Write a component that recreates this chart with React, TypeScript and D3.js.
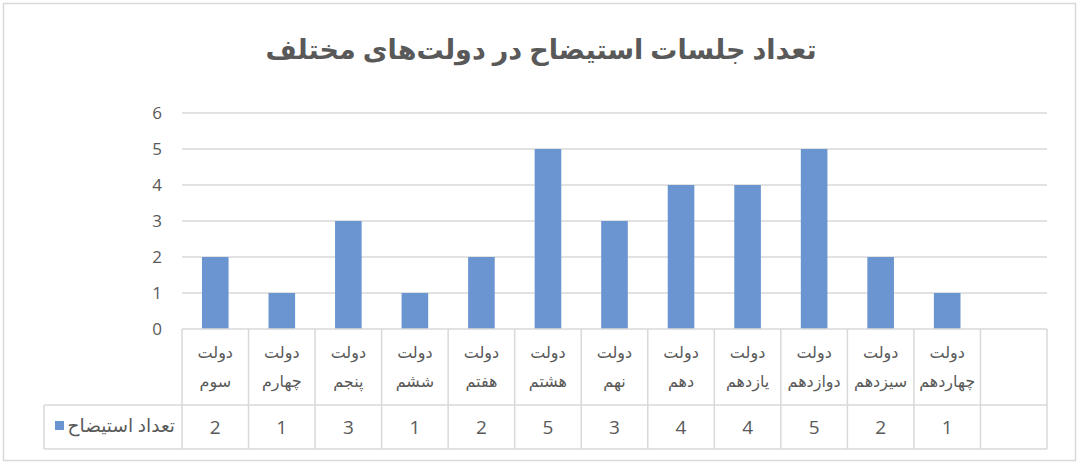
import React from 'react';
import * as d3 from 'd3';

const TITLE = 'تعداد جلسات استیضاح در دولت‌های مختلف';
const SERIES_NAME = 'تعداد استیضاح';
const ordinals = ['سوم', 'چهارم', 'پنجم', 'ششم', 'هفتم', 'هشتم', 'نهم', 'دهم', 'یازدهم', 'دوازدهم', 'سیزدهم', 'چهاردهم'];
const values = [2, 1, 3, 1, 2, 5, 3, 4, 4, 5, 2, 1];
const yTicks = [0, 1, 2, 3, 4, 5, 6];

const W = 1083;
const H = 470;
const BAR = '#6b95d0';
const GRID = '#d9d9d9';
const TXT = '#595959';
const FONT = '"Open Sans", "DejaVu Sans", sans-serif';

const App: React.FC = () => {
  // empty 13th slot, as in the source table
  const slots = [...ordinals.map((_, i) => String(i)), 'blank'];
  const x = d3.scaleBand<string>().domain(slots).range([182, 1047]).paddingInner(0).paddingOuter(0);
  const y = d3.scaleLinear().domain([0, 6]).range([329, 113]);
  const bw = x.bandwidth();
  const barW = bw * 0.4;

  const tableTop = y(0);
  const rowSplit = 405;
  const tableBottom = 449;
  const legendLeft = 44;

  return (
    <svg width={W} height={H} style={{ position: 'absolute', left: 0, top: 0, background: '#fff' }} fontFamily={FONT}>
      <rect x={3.5} y={3.5} width={1072} height={457} fill="#fff" stroke={GRID} strokeWidth={1.5} />
      <text x={541} y={59} textAnchor="middle" fontSize={27} fontWeight="bold" fill={TXT}>{TITLE}</text>

      {/* gridlines and y labels */}
      {yTicks.map(t => (
        <g key={t}>
          {t > 0 && <line x1={182} x2={1047} y1={y(t)} y2={y(t)} stroke={GRID} strokeWidth={1.5} />}
          <text x={162} y={y(t)} dy="0.36em" textAnchor="end" fontSize={17} fill={TXT}>{t}</text>
        </g>
      ))}

      {/* bars */}
      {values.map((v, i) => (
        <rect key={i} x={x(String(i))! + (bw - barW) / 2} y={y(v)} width={barW} height={y(0) - y(v)} fill={BAR} />
      ))}

      {/* data table */}
      <g stroke={GRID} strokeWidth={1.5} fill="none">
        <line x1={182} x2={1047} y1={tableTop} y2={tableTop} />
        <line x1={legendLeft} x2={1047} y1={rowSplit} y2={rowSplit} />
        <line x1={legendLeft} x2={1047} y1={tableBottom} y2={tableBottom} />
        <line x1={legendLeft} x2={legendLeft} y1={rowSplit} y2={tableBottom} />
        {slots.map(s => (
          <line key={s} x1={x(s)!} x2={x(s)!} y1={tableTop} y2={tableBottom} />
        ))}
        <line x1={1047} x2={1047} y1={tableTop} y2={tableBottom} />
      </g>

      {ordinals.map((o, i) => {
        const cx = x(String(i))! + bw / 2;
        return (
          <g key={o} fill={TXT} fontSize={16} textAnchor="middle">
            <text x={cx} y={358}>دولت</text>
            <text x={cx} y={387}>{o}</text>
            <text x={cx} y={434} fontSize={19}>{values[i]}</text>
          </g>
        );
      })}

      <rect x={55} y={421} width={9} height={9} fill={BAR} />
      <text x={175} y={432} textAnchor="end" fontSize={18.5} fill={TXT}>{SERIES_NAME}</text>
    </svg>
  );
};

export default App;
